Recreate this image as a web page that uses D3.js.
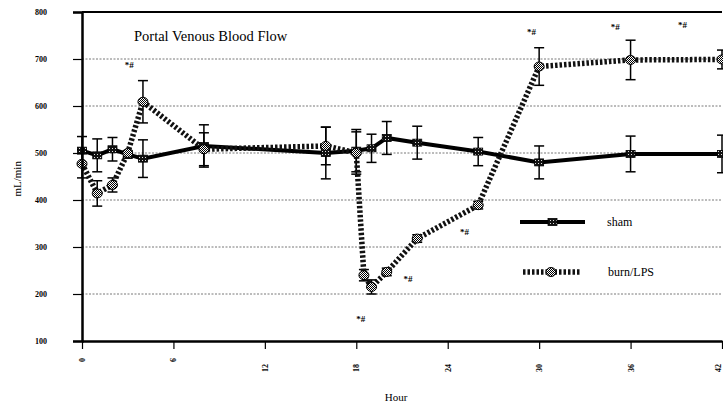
<!DOCTYPE html>
<html>
<head>
<meta charset="utf-8">
<script src="https://cdn.jsdelivr.net/npm/d3@7"></script>
<style>
  body { margin: 0; background: #fff; }
  text { font-family: "Liberation Serif", "DejaVu Serif", serif; fill: #000; }
</style>
</head>
<body>
<div id="chart"></div>
<script>
// Hours of the measurements
const shamHours = [0, 1, 2, 3, 4, 8, 16, 18, 19, 20, 22, 26, 30, 36, 42];
const shamFlow  = [505, 495, 508, 497, 488, 515, 500, 505, 510, 532, 522, 503, 480, 498, 498];
const shamErr   = [30, 35, 25, 8, 40, 45, 55, 45, 30, 35, 35, 30, 35, 38, 40];

const burnHours = [0, 1, 2, 3, 4, 8, 16, 18, 18.5, 19, 20, 22, 26, 30, 36, 42];
const burnFlow  = [477, 414, 432, 500, 609, 508, 515, 500, 240, 215, 247, 318, 389, 684, 698, 699];
const burnErr   = [30, 27, 15, 0, 45, 35, 40, 45, 12, 15, 8, 8, 8, 40, 42, 20];

// "*#" significance marks (hour, mL/min)
const markHours = [3.1, 18.3, 21.4, 25.1, 29.5, 35, 39.4];
const markFlow  = [688, 148, 233, 333, 758, 769, 772];

const yTicks = [100, 200, 300, 400, 500, 600, 700, 800];
const xTicks = [0, 6, 12, 18, 24, 30, 36, 42];

const W = 723, H = 410;
const margin = { top: 12, right: 1, bottom: 69, left: 82 };

const svg = d3.select("#chart")
  .append("svg")
  .attr("width", W)
  .attr("height", H);

const defs = svg.append("defs");

// checkered fill for burn/LPS markers
const chk = defs.append("pattern")
  .attr("id", "chk")
  .attr("width", 2).attr("height", 2)
  .attr("patternUnits", "userSpaceOnUse");
chk.append("rect").attr("width", 2).attr("height", 2).attr("fill", "#fff");
chk.append("rect").attr("width", 1).attr("height", 1).attr("fill", "#000");
chk.append("rect").attr("x", 1).attr("y", 1).attr("width", 1).attr("height", 1).attr("fill", "#000");

// dotted fill for sham markers
const dots = defs.append("pattern")
  .attr("id", "dots")
  .attr("width", 3).attr("height", 3)
  .attr("patternUnits", "userSpaceOnUse");
dots.append("rect").attr("width", 3).attr("height", 3).attr("fill", "#111");
dots.append("rect").attr("x", 1).attr("y", 1).attr("width", 1).attr("height", 1).attr("fill", "#ddd");

const x = d3.scaleLinear().domain([0, 42]).range([margin.left, W - margin.right]);
const y = d3.scaleLinear().domain([100, 800]).range([H - margin.bottom, margin.top]);

const sham = shamHours.map((h, i) => ({ h: h, v: shamFlow[i], e: shamErr[i] }));
const burn = burnHours.map((h, i) => ({ h: h, v: burnFlow[i], e: burnErr[i] }));

// gridlines
svg.append("g")
  .selectAll("line")
  .data(yTicks.filter(d => d > 100 && d < 800))
  .enter()
  .append("line")
  .attr("x1", x(0)).attr("x2", x(42))
  .attr("y1", d => y(d)).attr("y2", d => y(d))
  .attr("stroke", "#555")
  .attr("stroke-width", 0.8)
  .attr("stroke-dasharray", "2,1.5");

// top frame line
svg.append("line")
  .attr("x1", x(0)).attr("x2", x(42))
  .attr("y1", y(800)).attr("y2", y(800))
  .attr("stroke", "#000").attr("stroke-width", 2);

// error bars
function errorBars(data, cls) {
  const g = svg.append("g").attr("class", cls);
  const eb = data.filter(d => d.e > 0);
  g.selectAll(".v").data(eb).enter().append("line")
    .attr("x1", d => x(d.h)).attr("x2", d => x(d.h))
    .attr("y1", d => y(d.v - d.e)).attr("y2", d => y(d.v + d.e))
    .attr("stroke", "#000").attr("stroke-width", 1.5);
  g.selectAll(".t").data(eb).enter().append("line")
    .attr("x1", d => x(d.h) - 5).attr("x2", d => x(d.h) + 5)
    .attr("y1", d => y(d.v + d.e)).attr("y2", d => y(d.v + d.e))
    .attr("stroke", "#000").attr("stroke-width", 1.5);
  g.selectAll(".b").data(eb).enter().append("line")
    .attr("x1", d => x(d.h) - 5).attr("x2", d => x(d.h) + 5)
    .attr("y1", d => y(d.v - d.e)).attr("y2", d => y(d.v - d.e))
    .attr("stroke", "#000").attr("stroke-width", 1.5);
}
errorBars(sham, "sham-err");
errorBars(burn, "burn-err");

const line = d3.line().x(d => x(d.h)).y(d => y(d.v));

// sham line
svg.append("path")
  .datum(sham)
  .attr("d", line)
  .attr("fill", "none")
  .attr("stroke", "#000")
  .attr("stroke-width", 4);

// burn/LPS line
svg.append("path")
  .datum(burn)
  .attr("d", line)
  .attr("fill", "none")
  .attr("stroke", "#111")
  .attr("stroke-width", 5.5)
  .attr("stroke-dasharray", "2.5,2");

// markers
svg.append("g")
  .selectAll("rect")
  .data(sham)
  .enter()
  .append("rect")
  .attr("x", d => x(d.h) - 4.5)
  .attr("y", d => y(d.v) - 3.5)
  .attr("width", 9).attr("height", 7)
  .attr("fill", "url(#dots)")
  .attr("stroke", "#000").attr("stroke-width", 0.8);

svg.append("g")
  .selectAll("ellipse")
  .data(burn)
  .enter()
  .append("ellipse")
  .attr("cx", d => x(d.h))
  .attr("cy", d => y(d.v))
  .attr("rx", 5).attr("ry", 4.5)
  .attr("fill", "url(#chk)")
  .attr("stroke", "#000").attr("stroke-width", 1);

// significance marks
svg.append("g")
  .selectAll("text")
  .data(markHours.map((h, i) => ({ h: h, v: markFlow[i] })))
  .enter()
  .append("text")
  .attr("x", d => x(d.h))
  .attr("y", d => y(d.v))
  .attr("text-anchor", "middle")
  .attr("dy", "0.35em")
  .style("font-size", "9px")
  .style("font-weight", "bold")
  .text("*#");

// y axis
const yAxis = svg.append("g")
  .attr("transform", "translate(" + margin.left + ",0)")
  .call(d3.axisLeft(y).tickValues(yTicks).tickSize(9).tickPadding(26).tickFormat(d3.format("d")));
yAxis.select(".domain").attr("stroke-width", 2.5);
yAxis.selectAll(".tick line").attr("stroke-width", 1.2);
yAxis.selectAll(".tick text")
  .style("font-family", "'Liberation Serif', serif")
  .style("font-size", "8px")
  .style("font-weight", "bold");

// x axis
const xAxis = svg.append("g")
  .attr("transform", "translate(0," + y(100) + ")")
  .call(d3.axisBottom(x).tickValues(xTicks).tickSize(8).tickSizeOuter(0).tickFormat(d3.format("d")));
xAxis.select(".domain").attr("stroke-width", 2.5);
xAxis.selectAll(".tick line").attr("stroke-width", 1.2);
xAxis.selectAll(".tick text")
  .attr("y", 0)
  .attr("dy", 0)
  .attr("transform", d => "translate(" + (d === 42 ? -4 : 0) + "," + (19 + (String(d).length - 1) * 8) + ") rotate(-90)")
  .attr("text-anchor", "middle")
  .attr("dominant-baseline", "central")
  .style("font-family", "'Liberation Serif', serif")
  .style("font-size", "8px")
  .style("font-weight", "bold");

// title
svg.append("text")
  .attr("x", 134)
  .attr("y", 41)
  .style("font-size", "14.5px")
  .text("Portal Venous Blood Flow");

// axis labels
svg.append("text")
  .attr("transform", "translate(21," + y(445) + ") rotate(-90)")
  .attr("text-anchor", "middle")
  .style("font-size", "11px")
  .text("mL/min");

svg.append("text")
  .attr("x", 396)
  .attr("y", 401)
  .attr("text-anchor", "middle")
  .style("font-size", "11px")
  .text("Hour");

// legend
const legend = svg.append("g");
legend.append("line")
  .attr("x1", 520).attr("x2", 585).attr("y1", 222).attr("y2", 222)
  .attr("stroke", "#000").attr("stroke-width", 4);
legend.append("rect")
  .attr("x", 548).attr("y", 218.5).attr("width", 9).attr("height", 7)
  .attr("fill", "url(#dots)").attr("stroke", "#000").attr("stroke-width", 0.8);
legend.append("text")
  .attr("x", 607).attr("y", 226)
  .style("font-size", "12px")
  .text("sham");

legend.append("line")
  .attr("x1", 523).attr("x2", 580).attr("y1", 272).attr("y2", 272)
  .attr("stroke", "#111").attr("stroke-width", 5.5)
  .attr("stroke-dasharray", "2.5,2");
legend.append("ellipse")
  .attr("cx", 551).attr("cy", 272).attr("rx", 5).attr("ry", 4.5)
  .attr("fill", "url(#chk)").attr("stroke", "#000").attr("stroke-width", 1);
legend.append("text")
  .attr("x", 608).attr("y", 276)
  .style("font-size", "12px")
  .text("burn/LPS");
</script>
</body>
</html>
